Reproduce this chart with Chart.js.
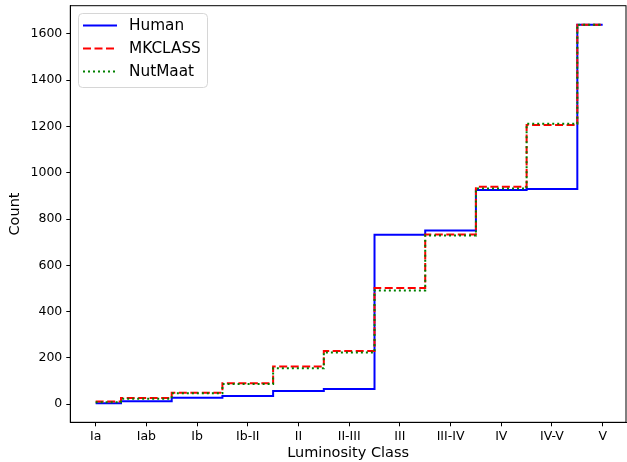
<!DOCTYPE html>
<html>
<head>
<meta charset="utf-8">
<script src="https://cdn.jsdelivr.net/npm/chart.js@4.4.0/dist/chart.umd.min.js"></script>
<style>
  html, body { margin: 0; padding: 0; background: #fff; }
  #wrap { width: 627px; height: 462px; }
</style>
</head>
<body>
<div id="wrap"><canvas id="stepChart"></canvas></div>
<script>
// luminosity classes along the x axis
const classes = ['Ia', 'Iab', 'Ib', 'Ib-II', 'II', 'II-III', 'III', 'III-IV', 'IV', 'IV-V', 'V'];

// counts
const humanCounts   = [4, 13, 28, 36, 57, 66, 732, 751, 926, 930, 1640];
const mkclassCounts = [12, 27, 50, 91, 163, 230, 502, 733, 940, 1207, 1640];
const nutmaatCounts = [9, 24, 47, 87, 155, 224, 492, 729, 932, 1212, 1640];

const yTicks = [0, 200, 400, 600, 800, 1000, 1200, 1400, 1600];

const font = "'DejaVu Sans', sans-serif";

function toPoints(vals) {
    return vals.map((v, i) => ({ x: i, y: v }));
}

// matplotlib style frame + legend box
const framePlugin = {
    id: 'frame',
    afterDraw(chart) {
        const ctx = chart.ctx;
        const a = chart.chartArea;
        ctx.save();
        ctx.strokeStyle = '#000';
        ctx.lineWidth = 1;
        ctx.strokeRect(a.left, a.top, a.right - a.left, a.bottom - a.top);

        // legend
        const x0 = 78.5, y0 = 13.5, w = 129, h = 74, r = 4;
        ctx.fillStyle = 'rgba(255,255,255,0.8)';
        ctx.strokeStyle = '#d6d6d6';
        ctx.beginPath();
        ctx.roundRect(x0, y0, w, h, r);
        ctx.fill();
        ctx.stroke();

        chart.data.datasets.forEach((ds, i) => {
            const yy = 25.5 + i * 23;
            ctx.strokeStyle = ds.borderColor;
            ctx.lineWidth = ds.borderWidth;
            ctx.setLineDash(ds.borderDash || []);
            ctx.beginPath();
            ctx.moveTo(83, yy);
            ctx.lineTo(117, yy);
            ctx.stroke();
            ctx.setLineDash([]);
            ctx.fillStyle = '#000';
            ctx.font = '15.3px ' + font;
            ctx.textBaseline = 'middle';
            ctx.textAlign = 'left';
            ctx.fillText(ds.label, 129, yy + 1);
        });
        ctx.restore();
    }
};

const ctx = document.getElementById('stepChart').getContext('2d');
new Chart(ctx, {
    type: 'line',
    data: {
        datasets: [{
            label: 'Human',
            data: toPoints(humanCounts),
            borderColor: '#0000ff',
            borderWidth: 2,
            stepped: 'middle',
            pointRadius: 0,
            fill: false,
            order: 2
        }, {
            label: 'MKCLASS',
            data: toPoints(mkclassCounts),
            borderColor: '#ff0000',
            borderWidth: 2,
            borderDash: [8, 3.5],
            stepped: 'middle',
            pointRadius: 0,
            fill: false,
            order: 1
        }, {
            label: 'NutMaat',
            data: toPoints(nutmaatCounts),
            borderColor: '#008000',
            borderWidth: 2,
            borderDash: [2, 3],
            stepped: 'middle',
            pointRadius: 0,
            fill: false,
            order: 0
        }]
    },
    options: {
        responsive: true,
        maintainAspectRatio: false,
        animation: false,
        layout: { padding: { top: 5.7, right: 1, left: 0, bottom: 0 } },
        plugins: {
            legend: { display: false },
            tooltip: { enabled: false }
        },
        scales: {
            x: {
                type: 'linear',
                min: -0.5,
                max: 10.46,
                afterBuildTicks: axis => {
                    axis.ticks = classes.map((c, i) => ({ value: i }));
                },
                afterFit: axis => {
                    axis.height = 39.7;
                    axis.paddingLeft = 0;
                    axis.paddingRight = 0;
                },
                grid: { drawOnChartArea: false, drawTicks: true, tickLength: 4, color: '#000' },
                border: { display: true, color: '#000', width: 1 },
                ticks: {
                    autoSkip: false,
                    maxRotation: 0,
                    padding: 3,
                    color: '#000',
                    font: { family: font, size: 12.5 },
                    callback: v => classes[v]
                },
                title: {
                    display: true,
                    text: 'Luminosity Class',
                    color: '#000',
                    font: { family: font, size: 14.5 },
                    padding: { top: 0, bottom: 0 }
                }
            },
            y: {
                min: -78,
                max: 1722,
                afterBuildTicks: axis => {
                    axis.ticks = yTicks.map(v => ({ value: v }));
                },
                afterFit: axis => {
                    axis.width = 70.3;
                    axis.paddingTop = 0;
                    axis.paddingBottom = 0;
                },
                grid: { drawOnChartArea: false, drawTicks: true, tickLength: 4, color: '#000' },
                border: { display: true, color: '#000', width: 1 },
                ticks: {
                    padding: 4,
                    color: '#000',
                    font: { family: font, size: 12.5 },
                    callback: v => String(v)
                },
                title: {
                    display: true,
                    text: 'Count',
                    color: '#000',
                    font: { family: font, size: 14.5 },
                    padding: { top: 7, bottom: 0 }
                }
            }
        }
    },
    plugins: [framePlugin]
});
</script>
</body>
</html>
